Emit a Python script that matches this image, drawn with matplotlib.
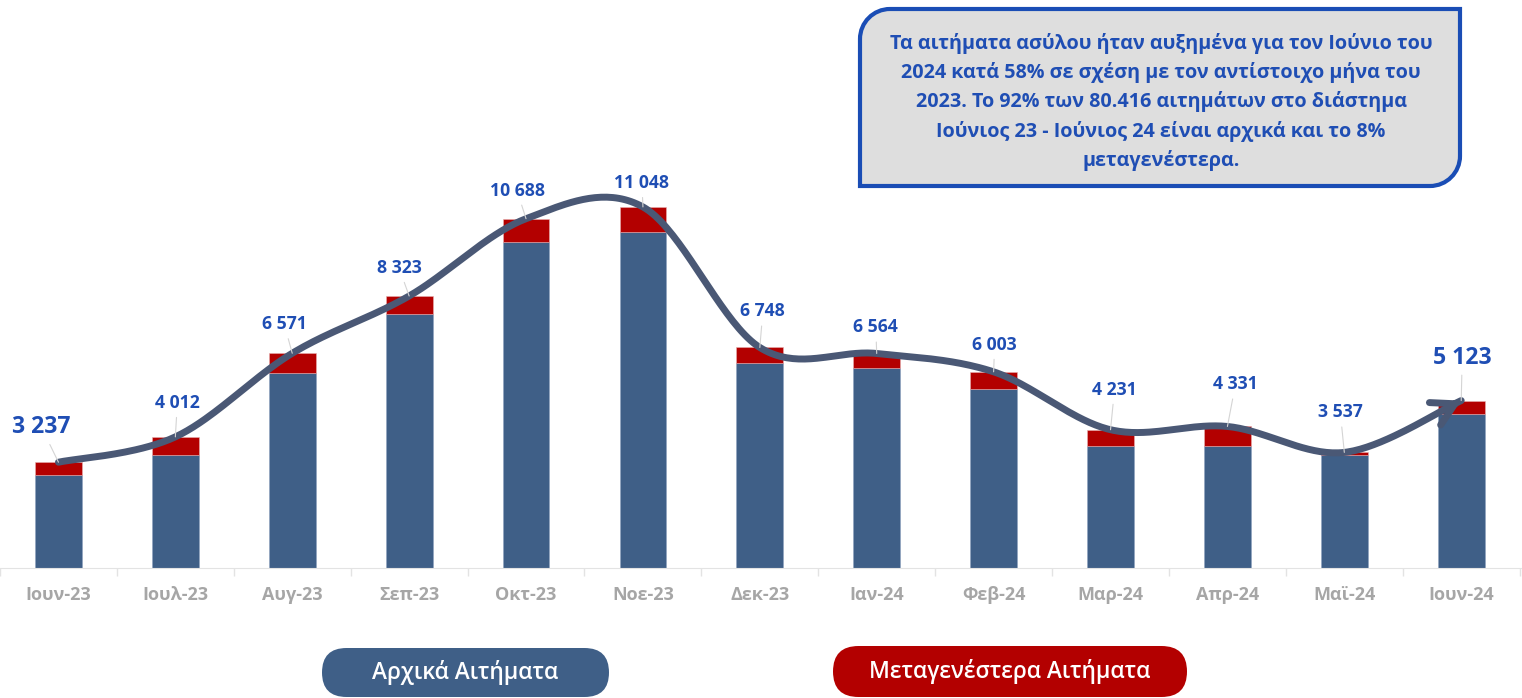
import numpy as np
import matplotlib
matplotlib.use("Agg")
import matplotlib.pyplot as plt
from matplotlib.path import Path
from matplotlib.patches import PathPatch, FancyBboxPatch
from matplotlib.transforms import Affine2D

plt.rcParams['font.family'] = ['Open Sans', 'DejaVu Sans']

# data
months = ['Ιουν-23', 'Ιουλ-23', 'Αυγ-23', 'Σεπ-23', 'Οκτ-23', 'Νοε-23', 'Δεκ-23',
          'Ιαν-24', 'Φεβ-24', 'Μαρ-24', 'Απρ-24', 'Μαϊ-24', 'Ιουν-24']
totals = [3237, 4012, 6571, 8323, 10688, 11048, 6748, 6564, 6003, 4231, 4331, 3537, 5123]
later = [382, 564, 605, 551, 722, 766, 484, 454, 535, 498, 591, 79, 411]
initial = [t - l for t, l in zip(totals, later)]

note = ("Τα αιτήματα ασύλου ήταν αυξημένα για τον Ιούνιο του\n"
        "2024 κατά 58% σε σχέση με τον αντίστοιχο μήνα του\n"
        "2023. Το 92% των 80.416 αιτημάτων στο διάστημα\n"
        "Ιούνιος 23 - Ιούνιος 24 είναι αρχικά και το 8%\n"
        "μεταγενέστερα.")

# label offsets in pixels (style only)
lab_off = [(-17, 35), (2, 34), (-8, 29), (-10, 28), (-9, 28), (-1, 24), (3, 36),
           (-1, 26), (1, 27), (4, 40), (8, 42), (-4, 40), (1, 43)]

BLUE = '#3F5F87'
RED = '#B30000'
LINE = '#4A5875'
LAB = '#1F4EB4'
GREY = '#A6A6A6'

W, H = 1522, 698
fig = plt.figure(figsize=(W / 100, H / 100), dpi=100)
ax = fig.add_axes([0, 130 / H, 1, 568 / H])
x = np.arange(len(months))

ax.bar(x, initial, width=0.40, color=BLUE, edgecolor='#8fa3bf', lw=0.4, zorder=2)
ax.bar(x, later, bottom=initial, width=0.40, color=RED, edgecolor='#e8b0b0', lw=0.4, zorder=2)

# smooth line (catmull-rom style, like excel)
P = np.column_stack([x, totals]).astype(float)
ext = np.vstack([P[0], P, P[-1]])
curve = []
for i in range(len(P) - 1):
    p0, p1, p2, p3 = ext[i], ext[i + 1], ext[i + 2], ext[i + 3]
    c1 = p1 + (p2 - p0) / 6
    c2 = p2 - (p3 - p1) / 6
    t = np.linspace(0, 1, 40)[:, None]
    seg = (1 - t) ** 3 * p1 + 3 * (1 - t) ** 2 * t * c1 + 3 * (1 - t) * t ** 2 * c2 + t ** 3 * p2
    curve.append(seg if i == 0 else seg[1:])
curve = np.vstack(curve)
ax.plot(curve[:, 0], curve[:, 1], color=LINE, lw=5, solid_capstyle='round', zorder=3)
ax.annotate('', xy=curve[-1], xytext=curve[-6],
            arrowprops=dict(arrowstyle='->,head_length=1.6,head_width=0.9', lw=5,
                            color=LINE, shrinkA=0, shrinkB=0), zorder=3)

for i, (t, off) in enumerate(zip(totals, lab_off)):
    big = i in (0, len(totals) - 1)
    ax.annotate(f"{t:,}".replace(',', ' '), xy=(i, t), xytext=off,
                textcoords='offset pixels', ha='center', va='center',
                fontsize=16.6 if big else 12.7, fontweight='bold', color=LAB, zorder=5,
                arrowprops=dict(arrowstyle='-', color='#d4d4d4', lw=0.8,
                                shrinkA=2, shrinkB=0))

ax.set_xlim(-0.49, 12.52)
ax.set_ylim(0, 17380)
ax.set_xticks(x)
ax.set_xticklabels(months, fontsize=13, fontweight='bold', color=GREY)
ax.set_xticks(np.arange(-0.5, 13, 1), minor=True)
ax.tick_params(axis='x', which='major', length=0, pad=13)
ax.tick_params(axis='x', which='minor', length=6, color='#e3e3e3', width=1)
ax.set_yticks([])
for s in ['top', 'left', 'right']:
    ax.spines[s].set_visible(False)
ax.spines['bottom'].set_color('#e3e3e3')
ax.patch.set_visible(False)

# pixel transform (y from bottom)
px = Affine2D().scale(1 / W, 1 / H) + fig.transFigure

# note box with rounded top-left and bottom-right corners
x0, x1, y0, y1, r = 860, 1460, H - 186, H - 9, 30
k = 0.5523 * r
verts = [(x0, y0), (x1 - r, y0),
         (x1 - r + k, y0), (x1, y0 + r - k), (x1, y0 + r),
         (x1, y1), (x0 + r, y1),
         (x0 + r - k, y1), (x0, y1 - r + k), (x0, y1 - r),
         (x0, y0), (x0, y0)]
codes = [Path.MOVETO, Path.LINETO, Path.CURVE4, Path.CURVE4, Path.CURVE4,
         Path.LINETO, Path.LINETO, Path.CURVE4, Path.CURVE4, Path.CURVE4,
         Path.LINETO, Path.CLOSEPOLY]
fig.patches.append(PathPatch(Path(verts, codes), transform=px, facecolor='#DEDEDE',
                             edgecolor='#1A4DB5', lw=3, zorder=5))
fig.text(1161 / W, 1 - 102 / H, note, ha='center', va='center', fontsize=14.2,
         fontweight='bold', color=LAB, linespacing=1.52, zorder=6)

# legend pills
for (lx0, lx1, ly0, ly1), col, txt in [((322, 609, 1, 50), BLUE, 'Αρχικά Αιτήματα'),
                                        ((833, 1187, 1, 52), RED, 'Μεταγενέστερα Αιτήματα')]:
    hh = ly1 - ly0
    fig.patches.append(FancyBboxPatch((lx0, ly0), lx1 - lx0, hh,
                                      boxstyle=f'round,pad=0,rounding_size={hh / 2}',
                                      transform=px, facecolor=col, edgecolor='none'))
    fig.text((lx0 + lx1) / 2 / W, (ly0 + ly1) / 2 / H, txt, ha='center', va='center',
             fontsize=16.3, color='white', fontweight='semibold')

fig.savefig('out.png', dpi=100)
